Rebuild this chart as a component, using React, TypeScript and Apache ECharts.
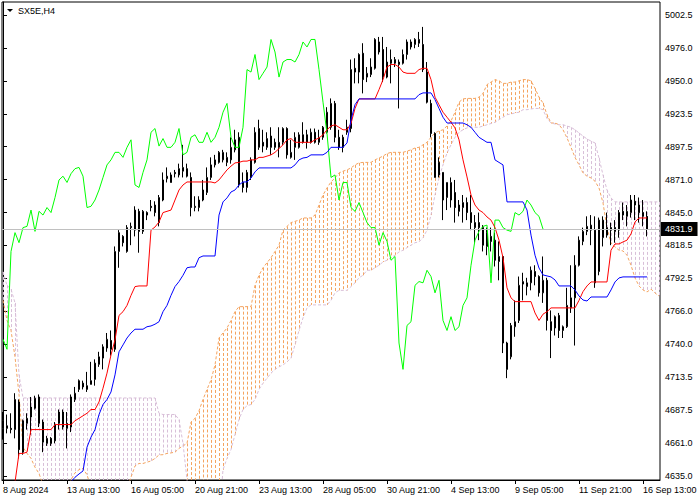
import React, { useEffect, useRef } from 'react';
import * as echarts from 'echarts';

const xTickIndex = [0, 16, 32, 48, 64, 80, 96, 112, 128, 144, 160];
const xTickLabels = ['8 Aug 2024', '13 Aug 13:00', '16 Aug 05:00', '20 Aug 21:00', '23 Aug 13:00', '28 Aug 05:00', '30 Aug 21:00', '4 Sep 13:00', '9 Sep 05:00', '11 Sep 21:00', '16 Sep 13:00'];
const priceTicks = [4635, 4661.25, 4687.5, 4713.75, 4740, 4766.25, 4792.5, 4818.75, 4845, 4871.25, 4897.5, 4923.75, 4950, 4976.25, 5002.5];
const priceLabels = ['4635.0', '4661.0', '4687.5', '4713.5', '4740.0', '4766.0', '4792.5', '4818.5', '4845.0', '4871.0', '4897.5', '4923.5', '4950.0', '4976.0', '5002.5'];
const lastPrice = 4831.9;
const chikouShift = 26;

const opens = [
  4673, 4675, 4673, 4672, 4694, 4679, 4677, 4682, 4689, 4698,
  4678, 4661, 4665, 4663, 4677, 4686, 4673, 4674, 4696, 4704,
  4709, 4704, 4708, 4712, 4724, 4729, 4737, 4743, 4736, 4814,
  4826, 4814, 4833, 4831, 4846, 4830, 4845, 4850, 4851, 4837,
  4855, 4872, 4875, 4877, 4875, 4878, 4880, 4873, 4849, 4849,
  4855, 4861, 4873, 4883, 4885, 4887, 4885, 4887, 4895, 4905,
  4869, 4865, 4873, 4885, 4897, 4901, 4897, 4906, 4901, 4897,
  4901, 4912, 4889, 4897, 4897, 4907, 4907, 4901, 4909, 4901,
  4905, 4909, 4913, 4932, 4905, 4905, 4909, 4912, 4960, 4957,
  4972, 4953, 4955, 4960, 4981, 4975, 4953, 4964, 4964, 4963,
  4964, 4971, 4981, 4979, 4980, 4979, 4957, 4932, 4908, 4885,
  4877, 4857, 4855, 4861, 4851, 4849, 4853, 4845, 4837, 4837,
  4833, 4818, 4826, 4823, 4806, 4810, 4741, 4730, 4754, 4759,
  4788, 4786, 4789, 4798, 4794, 4781, 4791, 4758, 4753, 4763,
  4751, 4754, 4769, 4777, 4803, 4822, 4830, 4831, 4831, 4798,
  4825, 4827, 4833, 4833, 4831, 4846, 4842, 4845, 4854, 4851,
  4845, 4842,
];
const closes = [
  4679, 4673, 4672, 4696, 4656, 4654, 4681, 4690, 4697, 4677,
  4662, 4665, 4661, 4676, 4686, 4674, 4677, 4698, 4701, 4711,
  4706, 4707, 4711, 4725, 4730, 4738, 4744, 4736, 4814, 4829,
  4821, 4833, 4834, 4847, 4830, 4846, 4843, 4849, 4845, 4857,
  4871, 4874, 4869, 4876, 4880, 4881, 4874, 4849, 4850, 4855,
  4863, 4873, 4883, 4887, 4893, 4893, 4889, 4897, 4903, 4867,
  4865, 4877, 4887, 4909, 4912, 4898, 4904, 4897, 4897, 4901,
  4912, 4891, 4893, 4905, 4907, 4901, 4901, 4909, 4901, 4905,
  4913, 4925, 4932, 4905, 4897, 4897, 4913, 4959, 4957, 4971,
  4951, 4956, 4961, 4983, 4973, 4953, 4965, 4967, 4967, 4965,
  4971, 4981, 4977, 4983, 4983, 4959, 4933, 4908, 4873, 4875,
  4855, 4869, 4869, 4849, 4846, 4853, 4845, 4837, 4833, 4833,
  4819, 4829, 4822, 4807, 4810, 4741, 4720, 4755, 4758, 4787,
  4790, 4789, 4799, 4794, 4781, 4791, 4759, 4751, 4762, 4751,
  4754, 4771, 4777, 4803, 4823, 4830, 4834, 4835, 4789, 4839,
  4839, 4833, 4831, 4830, 4845, 4843, 4846, 4855, 4851, 4845,
  4842, 4831.9,
];
const lows = [
  4664, 4669, 4669, 4665, 4649, 4652, 4672, 4668, 4688, 4674,
  4654, 4659, 4659, 4661, 4672, 4672, 4657, 4670, 4694, 4702,
  4704, 4702, 4708, 4707, 4722, 4720, 4734, 4731, 4734, 4801,
  4818, 4813, 4819, 4826, 4813, 4828, 4839, 4846, 4842, 4834,
  4854, 4869, 4869, 4873, 4873, 4873, 4873, 4842, 4846, 4846,
  4854, 4859, 4871, 4881, 4884, 4885, 4882, 4884, 4893, 4865,
  4861, 4861, 4871, 4884, 4895, 4893, 4895, 4891, 4895, 4889,
  4899, 4888, 4888, 4887, 4896, 4900, 4896, 4900, 4900, 4899,
  4903, 4908, 4911, 4901, 4895, 4893, 4907, 4909, 4948, 4948,
  4940, 4949, 4953, 4959, 4971, 4949, 4952, 4948, 4961, 4928,
  4963, 4967, 4975, 4976, 4977, 4957, 4932, 4905, 4873, 4873,
  4839, 4847, 4849, 4837, 4842, 4837, 4839, 4831, 4821, 4823,
  4814, 4811, 4814, 4802, 4791, 4733, 4713, 4728, 4746, 4757,
  4775, 4779, 4783, 4787, 4778, 4773, 4751, 4729, 4747, 4745,
  4745, 4753, 4765, 4739, 4802, 4819, 4827, 4819, 4785, 4795,
  4818, 4825, 4819, 4821, 4825, 4839, 4834, 4841, 4839, 4837,
  4834, 4826,
];
const highs = [
  4686, 4684, 4685, 4701, 4696, 4680, 4685, 4698, 4699, 4700,
  4680, 4667, 4666, 4678, 4688, 4688, 4686, 4700, 4706, 4712,
  4711, 4718, 4726, 4728, 4734, 4740, 4749, 4751, 4818, 4831,
  4827, 4835, 4837, 4850, 4848, 4847, 4846, 4855, 4854, 4859,
  4877, 4881, 4877, 4879, 4884, 4899, 4884, 4877, 4858, 4858,
  4871, 4881, 4889, 4891, 4894, 4895, 4893, 4905, 4911, 4909,
  4877, 4879, 4889, 4913, 4919, 4911, 4909, 4913, 4904, 4913,
  4913, 4913, 4903, 4909, 4909, 4917, 4911, 4912, 4912, 4911,
  4914, 4929, 4936, 4934, 4911, 4907, 4919, 4967, 4968, 4972,
  4980, 4961, 4968, 4984, 4985, 4985, 4977, 4975, 4969, 4967,
  4975, 4983, 4983, 4984, 4989, 4993, 4965, 4935, 4909, 4889,
  4877, 4869, 4873, 4871, 4855, 4859, 4857, 4859, 4843, 4845,
  4835, 4833, 4833, 4829, 4822, 4810, 4742, 4757, 4775, 4794,
  4797, 4793, 4802, 4803, 4795, 4810, 4793, 4767, 4763, 4765,
  4755, 4785, 4803, 4811, 4826, 4833, 4842, 4843, 4842, 4841,
  4842, 4845, 4837, 4839, 4847, 4853, 4851, 4859, 4859, 4857,
  4855, 4846,
];
const tenkan = [
  4600, 4604, 4612, 4630, 4653, 4653, 4654, 4672, 4672, 4672,
  4672, 4672, 4672, 4676, 4676, 4676, 4676, 4676, 4679, 4681,
  4683, 4685, 4688, 4688, 4694, 4705, 4717, 4731.5, 4743.5, 4763,
  4766, 4771, 4779, 4786, 4786.5, 4786.5, 4786.5, 4831, 4833.5, 4837.5,
  4845, 4846, 4847, 4855, 4863, 4867, 4869.4, 4869.4, 4869.4, 4869.4,
  4869.4, 4869.4, 4869.4, 4868.6, 4871, 4875, 4879, 4882, 4884.6, 4885,
  4886, 4886, 4887, 4887, 4889, 4889, 4890, 4891, 4893, 4896,
  4899, 4903, 4904, 4901, 4901, 4901, 4901, 4901, 4903, 4904.5,
  4907, 4911, 4914, 4915, 4913, 4911, 4911, 4916, 4928, 4935.6,
  4935.6, 4935.6, 4935.6, 4935.6, 4943, 4951, 4961, 4963, 4963, 4961,
  4957, 4956, 4956, 4956, 4959, 4960, 4960, 4951, 4937, 4931,
  4925, 4921, 4917, 4912.5, 4903, 4887, 4873.4, 4859, 4851, 4847,
  4845, 4841.5, 4839, 4833, 4823, 4809, 4785, 4777, 4774, 4774,
  4774, 4774, 4774, 4765, 4759, 4764, 4766, 4769, 4769, 4769,
  4769, 4769, 4769, 4769, 4775, 4782, 4786.5, 4789.7, 4789.7, 4789.7,
  4789.7, 4789.7, 4815, 4820, 4820, 4821.6, 4823, 4828, 4837.5, 4840.7,
  4840.7, 4840.7,
];
const kijun = [
  4600, 4600, 4600, 4600, 4600, 4600, 4600, 4600, 4600, 4600,
  4600, 4600, 4600, 4600, 4600, 4600, 4600, 4630.3, 4634, 4636.6,
  4639, 4658, 4666, 4672, 4684, 4692, 4696, 4702, 4715.6, 4734,
  4739.5, 4745, 4749, 4752, 4752, 4752, 4754, 4754.6, 4756, 4758,
  4766, 4771, 4779, 4786, 4790, 4795, 4801, 4801.6, 4801.6, 4809,
  4810.4, 4810.4, 4810.4, 4810.4, 4843, 4853.5, 4856.7, 4861.4, 4863, 4867,
  4869.4, 4869.4, 4872.6, 4877.4, 4880.6, 4880.6, 4880.6, 4880.6, 4880.6, 4880.6,
  4880.6, 4880.6, 4880.6, 4883, 4887, 4888.5, 4889, 4891, 4891, 4891,
  4891, 4893, 4897, 4897, 4897, 4897, 4900.5, 4919, 4931, 4935.6,
  4935.6, 4935.6, 4935.6, 4935.6, 4935.6, 4935.6, 4935.6, 4935.6, 4935.6, 4935.6,
  4935.6, 4935.6, 4935.6, 4935.6, 4939, 4940.4, 4940.4, 4940.4, 4935, 4928,
  4921, 4916.4, 4916.4, 4916.4, 4916.4, 4916.4, 4915, 4913, 4909, 4905,
  4903, 4901, 4901, 4887, 4885, 4883, 4853.5, 4853.5, 4853.5, 4853.5,
  4853.5, 4847, 4827, 4811, 4800.8, 4795.3, 4794.5, 4793.7, 4791.3, 4786.5,
  4786.5, 4786.5, 4786.5, 4783.3, 4778.5, 4775.3, 4774.5, 4777.7, 4777.7, 4777.7,
  4777.7, 4777.7, 4783.3, 4789.7, 4792.9, 4793.7, 4793.7, 4793.7, 4793.7, 4793.7,
  4793.7, 4793.7,
];
const spanA = [
  4775, 4759, 4751, 4730, 4700, 4658, 4653, 4649, 4642, 4637,
  4628, 4624, 4624, 4624, 4624, 4624, 4624, 4632, 4637.5, 4640,
  4641, 4636, 4625.5, 4625.5, 4625.5, 4625.5, 4625.5, 4625.5, 4625.5, 4625.5,
  4625.5, 4625.5, 4634, 4643, 4645, 4645, 4646, 4647, 4649, 4651.8,
  4652, 4653, 4653.4, 4654, 4657, 4659, 4661, 4678, 4681, 4687,
  4696, 4704, 4711.6, 4723.5, 4745, 4749, 4753, 4759, 4766, 4770,
  4770, 4770, 4770, 4787, 4795, 4801, 4805, 4809, 4814, 4819,
  4831, 4834, 4837, 4838, 4839, 4840.7, 4840.7, 4840.7, 4843, 4851,
  4859, 4864.6, 4869.4, 4872.6, 4876.6, 4878, 4879, 4880.6, 4883, 4884.6,
  4885, 4885, 4885, 4887, 4888.5, 4890, 4892, 4893, 4893, 4893,
  4893, 4894, 4895, 4896.5, 4897, 4899, 4901, 4905, 4908.5, 4910,
  4911, 4914, 4918, 4925, 4933, 4935.6, 4936, 4936, 4936, 4937,
  4940, 4947, 4949, 4951, 4950, 4948, 4948, 4949, 4949, 4950,
  4951, 4951, 4950, 4944, 4937, 4932.4, 4923, 4916.4, 4916.4, 4915,
  4911, 4904.5, 4897, 4889, 4883, 4876.6, 4874, 4872.6, 4870, 4864.6,
  4852.7, 4832.7, 4820.8, 4817.6, 4815, 4814.4, 4811, 4803, 4792.9, 4786.5,
  4783.3, 4781.7, 4784, 4780.9, 4778.5,
];
const spanB = [
  4797.7, 4787, 4784, 4773, 4715.6, 4697.2, 4697.2, 4697.2, 4697.2, 4697.2,
  4697.2, 4697.2, 4697.2, 4697.2, 4697.2, 4697.2, 4697.2, 4697.2, 4697.2, 4697.2,
  4697.2, 4697.2, 4697.2, 4697.2, 4697.2, 4697.2, 4697.2, 4697.2, 4697.2, 4697.2,
  4697.2, 4697.2, 4697.2, 4697.2, 4697.2, 4697.2, 4697.2, 4697.2, 4697.2, 4685,
  4684, 4684, 4684, 4684, 4680, 4661, 4632, 4600, 4600, 4600,
  4600, 4600, 4600, 4600, 4600, 4640, 4649, 4656, 4668, 4680,
  4688, 4691, 4692, 4696, 4704, 4709, 4713, 4717, 4720, 4722,
  4723.5, 4726, 4729, 4739.5, 4751, 4761, 4769, 4771.4, 4771.4, 4771.4,
  4771.4, 4771.4, 4775, 4781, 4783, 4783, 4783, 4786, 4789, 4793,
  4795, 4799, 4799, 4801, 4803, 4805.6, 4807, 4809, 4811, 4813.6,
  4815, 4817, 4819, 4821, 4821.6, 4825, 4831, 4843, 4859, 4872.6,
  4883, 4892.5, 4899, 4905, 4909, 4911, 4912.5, 4913, 4913, 4913,
  4914, 4915, 4916, 4917, 4919, 4921, 4923, 4923.6, 4924.4, 4925,
  4927, 4927, 4927.6, 4928, 4928, 4927, 4920, 4916.4, 4915.6, 4915,
  4915, 4914, 4913, 4911, 4908.5, 4906, 4903.7, 4902, 4900.5, 4888.5,
  4875, 4863, 4856.7, 4853.5, 4853.5, 4853.5, 4853.5, 4853.5, 4853.5, 4853.5,
  4853.5, 4853.5, 4853.5, 4853.5, 4853.5,
];

const FONT = 'Liberation Sans';
const UP_CLOUD = '#F4A460';
const DOWN_CLOUD = '#D8BFD8';
const Y_MIN = 4631.81;
const Y_MAX = 5012.86;
// half a pixel of x, so the 1px hatch lines sit on whole device pixels
const HALF_PX = 0.125;

export default function App() {
  const ref = useRef<HTMLDivElement>(null);
  useEffect(() => {
    if (!ref.current) return;
    const chart = echarts.init(ref.current, undefined, { renderer: 'svg' });
    const candleData = opens.map((o, i) => [i, o, closes[i], lows[i], highs[i]]);
    const clampY = (v: number) => Math.max(Y_MIN, Math.min(Y_MAX, v));
    const upCloud: any[] = [];
    const downCloud: any[] = [];
    spanA.forEach((a, i) => {
      const b = spanB[i];
      const item = { coords: [[i + HALF_PX, clampY(Math.max(a, b))], [i + HALF_PX, clampY(Math.min(a, b))]] };
      if (a >= b) upCloud.push(item);
      else downCloud.push(item);
    });
    const chikouData = closes.slice(chikouShift).map((c, j) => [j, c]);
    const toPairs = (arr: number[]) => arr.map((v, i) => [i, v]);
    const lineSeries = (name: string, arr: number[], color: string, z: number, dashed = false) => ({
      name,
      type: 'line',
      data: toPairs(arr),
      showSymbol: false,
      symbol: 'none',
      silent: true,
      z,
      itemStyle: { color },
      lineStyle: { color, width: 1, type: dashed ? [3, 2] : 'solid' },
    });
    const cloudSeries = (name: string, data: any[], color: string) => ({
      name,
      type: 'lines',
      coordinateSystem: 'cartesian2d',
      polyline: false,
      silent: true,
      z: 1,
      clip: true,
      data,
      lineStyle: { color, width: 1, type: [3, 2], opacity: 1, curveness: 0 },
    });
    chart.setOption({
      animation: false,
      backgroundColor: '#ffffff',
      textStyle: { fontFamily: FONT },
      grid: {
        left: 2, top: 2, right: 40, bottom: 20,
        show: true, borderColor: '#000', borderWidth: 1, backgroundColor: '#fff',
      },
      xAxis: {
        type: 'value',
        min: -0.25,
        max: 164.25,
        axisLine: { show: true, lineStyle: { color: '#000', width: 1 } },
        axisTick: { show: true, customValues: xTickIndex, length: 4, lineStyle: { color: '#000' } },
        axisLabel: {
          customValues: xTickIndex,
          formatter: (v: number) => {
            const k = xTickIndex.indexOf(Math.round(v));
            return k >= 0 ? xTickLabels[k] : '';
          },
          align: 'left',
          margin: 5,
          color: '#000',
          fontSize: 9,
          fontFamily: FONT,
        },
        splitLine: { show: false },
      },
      yAxis: {
        type: 'value',
        position: 'right',
        min: Y_MIN,
        max: Y_MAX,
        axisLine: { show: true, lineStyle: { color: '#000', width: 1 } },
        axisTick: { show: true, customValues: priceTicks, length: 4, lineStyle: { color: '#000' } },
        axisLabel: {
          customValues: priceTicks,
          formatter: (v: number) => {
            const k = priceTicks.findIndex((t) => Math.abs(t - v) < 0.01);
            return k >= 0 ? priceLabels[k] : '';
          },
          margin: 5,
          color: '#000',
          fontSize: 9,
          fontFamily: FONT,
        },
        splitLine: { show: false },
      },
      graphic: [
        { type: 'polygon', shape: { points: [[7, 9], [13, 9], [10, 12]] }, style: { fill: '#000' } },
        {
          type: 'text', x: 18, y: 11,
          style: { text: 'SX5E,H4', fill: '#000', fontSize: 9, fontFamily: FONT, verticalAlign: 'middle' },
        },
      ],
      series: [
        cloudSeries('Cloud up', upCloud, UP_CLOUD),
        cloudSeries('Cloud down', downCloud, DOWN_CLOUD),
        {
          name: 'price',
          type: 'line',
          data: [[161, lastPrice]],
          showSymbol: false,
          symbol: 'none',
          z: 1,
          lineStyle: { opacity: 0 },
          markLine: {
            silent: true,
            symbol: ['none', 'none'],
            data: [{ yAxis: lastPrice }],
            lineStyle: { color: '#C0C0C0', width: 1, type: 'solid' },
            label: {
              show: true,
              position: 'end',
              formatter: String(lastPrice),
              color: '#fff',
              backgroundColor: '#000',
              padding: [3, 5, 2, 4],
              fontSize: 9,
              fontFamily: FONT,
              distance: 1,
            },
          },
        },
        lineSeries('Senkou Span A', spanA, UP_CLOUD, 2, true),
        lineSeries('Senkou Span B', spanB, DOWN_CLOUD, 2, true),
        {
          name: 'SX5E',
          type: 'candlestick',
          data: candleData,
          encode: { x: 0, y: [1, 2, 3, 4] },
          barWidth: 2,
          z: 3,
          silent: true,
          itemStyle: {
            color: '#fff', color0: '#000',
            borderColor: '#000', borderColor0: '#000', borderColorDoji: '#000',
            borderWidth: 1,
          },
        },
        { ...lineSeries('Chikou Span', [], '#00FF00', 4), data: chikouData },
        lineSeries('Tenkan-sen', tenkan, '#FF0000', 4),
        lineSeries('Kijun-sen', kijun, '#0000FF', 4),
      ],
    });
    return () => chart.dispose();
  }, []);
  return (
    <div
      ref={ref}
      style={{ position: 'fixed', left: 0, top: 0, width: 700, height: 500, background: '#fff' }}
    />
  );
}
